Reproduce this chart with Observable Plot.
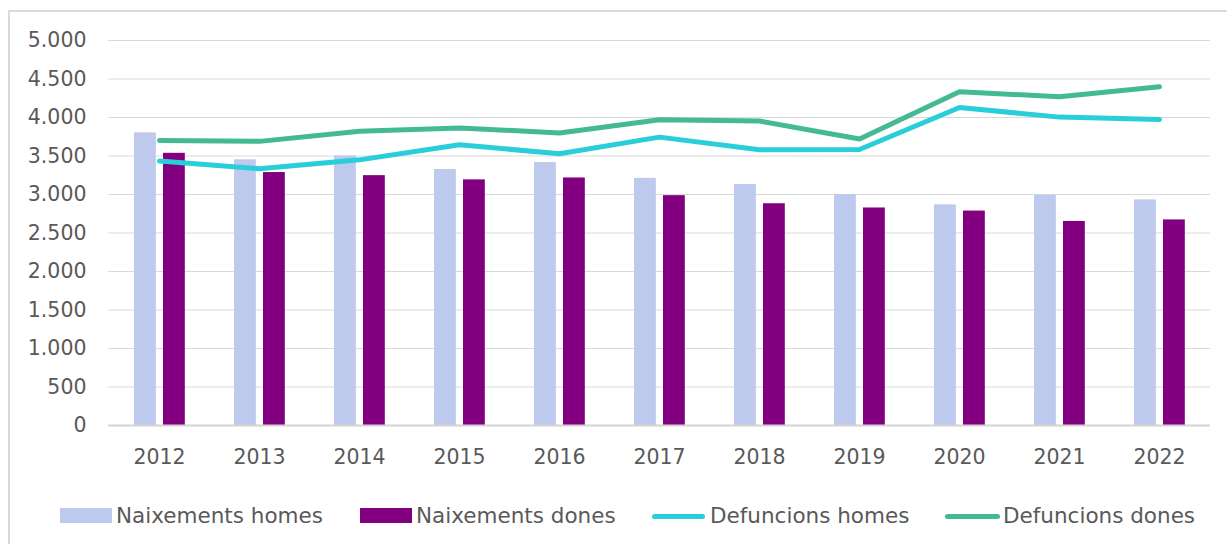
<!DOCTYPE html>
<html>
<head>
<meta charset="utf-8">
<script src="https://cdn.jsdelivr.net/npm/d3@7"></script>
<script src="https://cdn.jsdelivr.net/npm/@observablehq/plot@0.6"></script>
<style>
  html, body { margin: 0; padding: 0; background: #fff; overflow: hidden; }
  #wrap { position: relative; width: 1227px; height: 544px; font-family: "DejaVu Sans", sans-serif; color: #595959; }
  #frame { position: absolute; left: 8px; top: 10px; width: 1240px; height: 560px; border: 2px solid #dadada; box-sizing: border-box; }
  #chart { position: absolute; left: 0; top: 0; }
  .lg { position: absolute; font-size: 21.5px; line-height: 24px; top: 504px; white-space: nowrap; }
  .sw { position: absolute; }
</style>
</head>
<body>
<div id="wrap">
  <div id="frame"></div>
  <div id="chart"></div>
  <div id="legend"></div>
</div>
<script>
const years = ["2012","2013","2014","2015","2016","2017","2018","2019","2020","2021","2022"];
const naixementsHomes = [3800, 3450, 3500, 3325, 3415, 3210, 3130, 3000, 2865, 2990, 2930];
const naixementsDones = [3535, 3285, 3245, 3190, 3215, 2985, 2880, 2825, 2785, 2650, 2670];
const defuncionsHomes = [3435, 3335, 3450, 3645, 3530, 3745, 3580, 3585, 4130, 4005, 3975];
const defuncionsDones = [3700, 3690, 3820, 3865, 3800, 3970, 3955, 3720, 4335, 4270, 4400];
const yTicks = [0, 500, 1000, 1500, 2000, 2500, 3000, 3500, 4000, 4500, 5000];
const seriesNames = ["Naixements homes", "Naixements dones", "Defuncions homes", "Defuncions dones"];
const colors = ["#bdcaee", "#820080", "#29ced8", "#43b995"];

const fmt = d3.formatLocale({decimal: ",", thousands: ".", grouping: [3], currency: ["", "€"]}).format(",");

const rows = years.map((y, i) => ({
  year: y,
  nh: naixementsHomes[i],
  nd: naixementsDones[i],
  dh: defuncionsHomes[i],
  dd: defuncionsDones[i]
}));

const bw = (1210 - 108) / years.length;

const plot = Plot.plot({
  width: 1227,
  height: 490,
  marginTop: 40,
  marginBottom: 65,
  marginLeft: 108,
  marginRight: 17,
  style: { fontFamily: "DejaVu Sans, sans-serif", fontSize: "20.5px", color: "#595959", background: "transparent" },
  x: { domain: years, padding: 0, label: null },
  y: { domain: [0, 5000], label: null },
  marks: [
    Plot.ruleY(yTicks.filter(d => d > 0), { stroke: "#d9d9d9", strokeWidth: 1.2 }),
    Plot.barY(rows, { x: "year", y: "nh", fill: colors[0], insetLeft: 25, insetRight: bw - 47 }),
    Plot.barY(rows, { x: "year", y: "nd", fill: colors[1], insetLeft: 54, insetRight: bw - 76 }),
    Plot.ruleY([0], { stroke: "#d4d4d4", strokeWidth: 1.8 }),
    Plot.line(rows, { x: "year", y: "dh", stroke: colors[2], strokeWidth: 5, strokeLinecap: "round", strokeLinejoin: "round" }),
    Plot.line(rows, { x: "year", y: "dd", stroke: colors[3], strokeWidth: 5, strokeLinecap: "round", strokeLinejoin: "round" }),
    Plot.axisY({ ticks: yTicks, tickFormat: fmt, tickSize: 0, tickPadding: 22, fill: "#595959", fontSize: 20.5 }),
    Plot.axisX({ tickSize: 0, tickPadding: 24, fill: "#595959", fontSize: 20.5 })
  ]
});
document.getElementById("chart").appendChild(plot);

// Legend
const legend = document.getElementById("legend");
const items = [
  { sw: { left: 60, top: 508, width: 52, height: 15, radius: 0 }, text: 116 },
  { sw: { left: 360, top: 508, width: 52, height: 15, radius: 0 }, text: 416 },
  { sw: { left: 652, top: 513.5, width: 53, height: 5, radius: 3 }, text: 710 },
  { sw: { left: 945, top: 513.5, width: 55, height: 5, radius: 3 }, text: 1003 }
];
items.forEach((it, i) => {
  const s = document.createElement("div");
  s.className = "sw";
  Object.assign(s.style, {
    left: it.sw.left + "px", top: it.sw.top + "px",
    width: it.sw.width + "px", height: it.sw.height + "px",
    background: colors[i], borderRadius: it.sw.radius + "px"
  });
  legend.appendChild(s);
  const t = document.createElement("div");
  t.className = "lg";
  t.style.left = it.text + "px";
  t.textContent = seriesNames[i];
  legend.appendChild(t);
});
</script>
</body>
</html>
